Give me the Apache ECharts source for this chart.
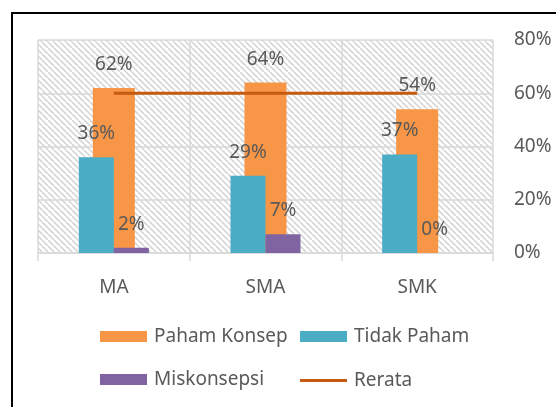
<!DOCTYPE html>
<html>
<head>
<meta charset="utf-8">
<script src="https://cdn.jsdelivr.net/npm/echarts@6/dist/echarts.min.js"></script>
<style>
  html, body { margin: 0; padding: 0; background: #fff; }
  #main { width: 556px; height: 407px; }
</style>
</head>
<body>
<div id="main"></div>
<script>
const categories = ['MA', 'SMA', 'SMK'];
const pahamKonsep = [62, 64, 54];
const tidakPaham = [36, 29, 37];
const miskonsepsi = [2, 7, 0];
const rerata = [60, 60, 60];
const yTicks = [0, 20, 40, 60, 80];

const FONT = 'Noto Sans';
const TEXT = '#595959';
const GRIDLINE = '#d9d9d9';
const FS = 19;

// diagonal hatch used behind the plot
function hatch() {
  const w = 6;
  const c = document.createElement('canvas');
  c.width = w;
  c.height = w;
  const ctx = c.getContext('2d');
  ctx.fillStyle = '#fff';
  ctx.fillRect(0, 0, w, w);
  ctx.strokeStyle = '#d6d6d6';
  ctx.lineWidth = 1.6;
  [-w, 0, w].forEach(function (k) {
    ctx.beginPath();
    ctx.moveTo(k, 0);
    ctx.lineTo(k + w, w);
    ctx.stroke();
  });
  return c;
}

const chart = echarts.init(document.getElementById('main'), null, { renderer: 'canvas' });

const labelStyle = {
  show: true,
  position: 'top',
  distance: 14,
  color: TEXT,
  fontFamily: FONT,
  fontSize: FS,
  formatter: '{c}%'
};

const legendText = { color: TEXT, fontFamily: FONT, fontSize: FS, padding: [0, 0, 0, 2] };

var option = {
  animation: false,
  graphic: [{
    type: 'rect',
    shape: { x: 12, y: 13, width: 600, height: 500 },
    style: { fill: 'none', stroke: '#000', lineWidth: 2 },
    z: 100
  }],
  grid: {
    left: 38,
    right: 63,
    top: 40,
    bottom: 154,
    show: true,
    borderWidth: 0,
    backgroundColor: { image: hatch(), repeat: 'repeat' }
  },
  legend: [{
    orient: 'vertical',
    left: 95,
    top: 322,
    itemWidth: 47,
    itemHeight: 11,
    itemGap: 24,
    textStyle: legendText,
    data: [{ name: 'Paham Konsep', icon: 'rect' }, { name: 'Miskonsepsi', icon: 'rect' }]
  }, {
    left: 295,
    top: 322,
    itemWidth: 47,
    itemHeight: 11,
    textStyle: legendText,
    data: [{ name: 'Tidak Paham', icon: 'rect' }]
  }, {
    left: 295,
    top: 366,
    itemWidth: 47,
    itemHeight: 3,
    textStyle: legendText,
    data: [{ name: 'Rerata', icon: 'rect' }]
  }],
  xAxis: [{
    type: 'category',
    data: categories,
    axisLine: { lineStyle: { color: GRIDLINE, width: 1.5 } },
    axisTick: { show: true, length: 8, lineStyle: { color: GRIDLINE, width: 1.5 } },
    axisLabel: { color: TEXT, fontFamily: FONT, fontSize: FS, margin: 25 },
    splitLine: { show: true, lineStyle: { color: GRIDLINE, width: 1.5 } }
  }, {
    type: 'category',
    data: categories,
    show: false
  }],
  yAxis: {
    type: 'value',
    position: 'right',
    min: yTicks[0],
    max: yTicks[yTicks.length - 1],
    interval: 20,
    axisLine: { show: false },
    axisTick: { show: false },
    axisLabel: { color: TEXT, fontFamily: FONT, fontSize: FS, margin: 21, formatter: '{value}%' },
    splitLine: { lineStyle: { color: GRIDLINE, width: 1.5 } }
  },
  series: [{
    name: 'Paham Konsep',
    type: 'bar',
    xAxisIndex: 0,
    barWidth: 42,
    itemStyle: { color: '#F79646' },
    label: labelStyle,
    z: 2,
    data: pahamKonsep
  }, {
    name: 'Tidak Paham',
    type: 'bar',
    xAxisIndex: 1,
    barWidth: 35,
    barGap: 0,
    itemStyle: { color: '#4BACC6' },
    label: labelStyle,
    z: 3,
    data: tidakPaham
  }, {
    name: 'Miskonsepsi',
    type: 'bar',
    xAxisIndex: 1,
    barWidth: 35,
    barGap: 0,
    itemStyle: { color: '#8064A2' },
    label: labelStyle,
    z: 3,
    data: miskonsepsi
  }, {
    name: 'Rerata',
    type: 'line',
    xAxisIndex: 0,
    symbol: 'none',
    lineStyle: { color: '#C55A11', width: 3 },
    itemStyle: { color: '#C55A11' },
    z: 4,
    data: rerata
  }]
};

chart.setOption(option);
</script>
</body>
</html>
